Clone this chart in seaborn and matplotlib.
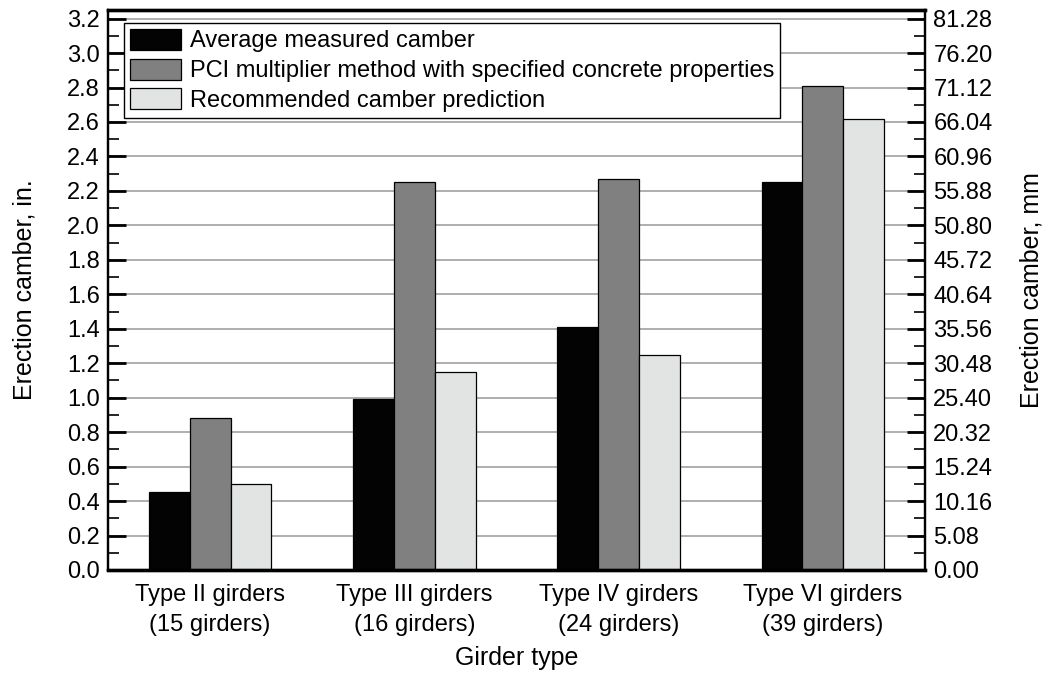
import numpy as np
import pandas as pd
import matplotlib
matplotlib.use("Agg")
import matplotlib.pyplot as plt
from matplotlib.ticker import MultipleLocator, FormatStrFormatter
import seaborn as sns

# Girder groups and camber results (inches)
girder_types = [
    "Type II girders\n(15 girders)",
    "Type III girders\n(16 girders)",
    "Type IV girders\n(24 girders)",
    "Type VI girders\n(39 girders)",
]
series_names = [
    "Average measured camber",
    "PCI multiplier method with specified concrete properties",
    "Recommended camber prediction",
]
measured = [0.45, 0.99, 1.41, 2.25]
pci_multiplier = [0.88, 2.25, 2.27, 2.81]
recommended = [0.50, 1.15, 1.25, 2.62]

bar_colors = ["#030303", "#808080", "#e2e4e3"]

df = pd.DataFrame({
    "girder": girder_types * 3,
    "method": sum([[s] * len(girder_types) for s in series_names], []),
    "camber": measured + pci_multiplier + recommended,
})

sns.set_style("white")
plt.rcParams["font.family"] = ["Liberation Sans", "DejaVu Sans"]
plt.rcParams["font.size"] = 17
for key in ("text.color", "axes.labelcolor", "xtick.color", "ytick.color"):
    plt.rcParams[key] = "black"

fig = plt.figure(figsize=(10.48, 6.96), dpi=100)
ax = fig.add_axes([108 / 1048, 126 / 696, 817 / 1048, 560 / 696])

ax.set_axisbelow(True)
ax.yaxis.grid(True, color="#a8a8a8", linewidth=1.3)
sns.barplot(data=df, x="girder", y="camber", hue="method",
            hue_order=series_names, palette=bar_colors, width=0.6,
            edgecolor="black", linewidth=0.9, saturation=1, ax=ax)

ax.set_xlim(-0.5, 3.5)
ax.set_ylim(0, 3.25)
ax.yaxis.set_major_locator(MultipleLocator(0.2))
ax.yaxis.set_minor_locator(MultipleLocator(0.1))
ax.yaxis.set_major_formatter(FormatStrFormatter("%.1f"))
ax.tick_params(axis="y", which="major", direction="in", length=13, width=2,
               labelsize=17, pad=6)
ax.tick_params(axis="y", which="minor", direction="in", length=8, width=1.2)
ax.tick_params(axis="x", which="both", length=0, labelsize=17, pad=10)
for lbl in ax.get_xticklabels():
    lbl.set_linespacing(1.45)

ax.set_xlabel("Girder type", fontsize=18)
ax.xaxis.set_label_coords(0.5, -0.135)
ax.set_ylabel("Erection camber, in.", fontsize=18)
ax.yaxis.set_label_coords(-0.087, 0.5)

# Secondary axis in millimetres
ax2 = ax.twinx()
ax2.set_ylim(0, 3.25 * 25.4)
ax2.set_yticks(np.arange(0, 81.29, 5.08))
ax2.yaxis.set_minor_locator(MultipleLocator(2.54))
ax2.yaxis.set_major_formatter(FormatStrFormatter("%.2f"))
ax2.tick_params(axis="y", which="major", direction="in", length=13, width=2,
                labelsize=17, pad=6)
ax2.tick_params(axis="y", which="minor", direction="in", length=8, width=1.2)
ax2.set_ylabel("Erection camber, mm", fontsize=18)
ax2.yaxis.set_label_coords(1.116, 0.5)
ax2.grid(False)

for a in (ax, ax2):
    for side in ("top", "bottom"):
        a.spines[side].set_linewidth(2.4)
        a.spines[side].set_color("black")
    for side in ("left", "right"):
        a.spines[side].set_linewidth(1.6)
        a.spines[side].set_color("black")

handles, labels = ax.get_legend_handles_labels()
leg = ax.legend(handles, labels, loc="upper left",
                bbox_to_anchor=(0.0196, 0.977), borderaxespad=0,
                fontsize=17, frameon=True, fancybox=False, framealpha=1,
                edgecolor="black", borderpad=0.25, handlelength=2.15,
                handleheight=1.0, handletextpad=0.38, labelspacing=0.26)
leg.get_frame().set_linewidth(1.0)
leg.set_zorder(10)

fig.savefig("out.png", dpi=100)
